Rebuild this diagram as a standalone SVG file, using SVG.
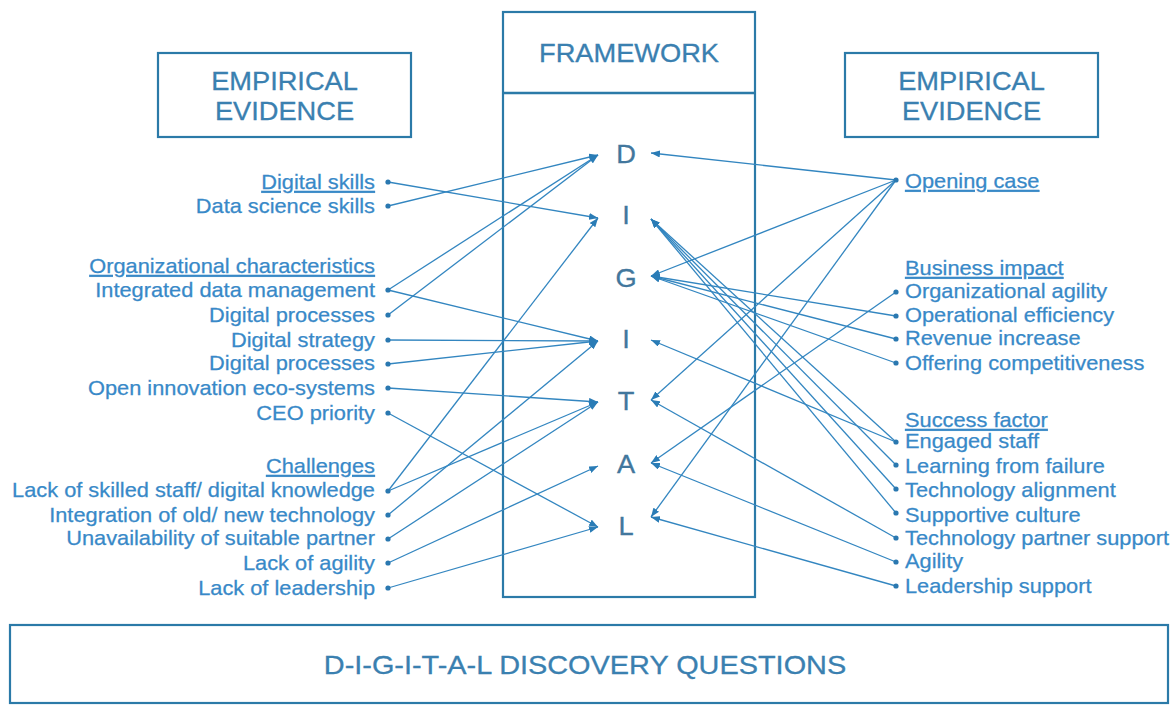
<svg xmlns="http://www.w3.org/2000/svg" width="1175" height="707" viewBox="0 0 1175 707">
  <style>
    text { font-family: "Liberation Sans", Arial, sans-serif; }
    .box { fill: #ffffff; stroke: #2b7aa8; stroke-width: 2.2; }
    .title { font-size: 25px; fill: #3a80b0; text-anchor: middle; stroke: #3a80b0; stroke-width: 0.3; }
    .letter { font-size: 25px; fill: #42779d; text-anchor: middle; stroke: #42779d; stroke-width: 0.3; }
    .lbl { font-size: 20px; fill: #3889c8; stroke: #3889c8; stroke-width: 0.25; }
    .lbl-l { text-anchor: end; }
    .head { text-decoration: underline; }
    .bottom { font-size: 26.5px; fill: #3a80b0; text-anchor: middle; stroke: #3a80b0; stroke-width: 0.3; }
    .con line { stroke: #3386c0; stroke-width: 1.3; marker-end: url(#arrow); }
    .dot { fill: #2a78b0; }
  </style>
  <defs>
    <marker id="arrow" markerUnits="userSpaceOnUse" markerWidth="9" markerHeight="7" refX="9" refY="3.5" orient="auto">
      <path d="M0,0 L9,3.5 L0,7 z" fill="#2a7cb6"/>
    </marker>
  </defs>

  <rect width="1175" height="707" fill="#ffffff"/>

  <!-- left evidence header -->
  <g id="left-header">
    <rect class="box" x="158" y="53" width="253" height="84"/>
    <text class="title" transform="translate(284.5,90) scale(1.09,1)">EMPIRICAL</text>
    <text class="title" transform="translate(284.5,120) scale(1.09,1)">EVIDENCE</text>
  </g>

  <!-- right evidence header -->
  <g id="right-header">
    <rect class="box" x="845" y="53" width="253" height="84"/>
    <text class="title" transform="translate(971.5,90) scale(1.09,1)">EMPIRICAL</text>
    <text class="title" transform="translate(971.5,120) scale(1.09,1)">EVIDENCE</text>
  </g>

  <!-- framework column -->
  <g id="framework">
    <rect class="box" x="503" y="12" width="252" height="585" stroke-width="2.6"/>
    <line x1="503" y1="93" x2="755" y2="93" stroke="#2b7aa8" stroke-width="2.4"/>
    <text class="title" transform="translate(629,62) scale(1.09,1)">FRAMEWORK</text>
  </g>

  <g id="letter-D"><text class="letter" transform="translate(626,163) scale(1.09,1)">D</text></g>
  <g id="letter-I1"><text class="letter" transform="translate(626,224) scale(1.09,1)">I</text></g>
  <g id="letter-G"><text class="letter" transform="translate(626,287) scale(1.09,1)">G</text></g>
  <g id="letter-I2"><text class="letter" transform="translate(626,348) scale(1.09,1)">I</text></g>
  <g id="letter-T"><text class="letter" transform="translate(626,410) scale(1.09,1)">T</text></g>
  <g id="letter-A"><text class="letter" transform="translate(626,473) scale(1.09,1)">A</text></g>
  <g id="letter-L"><text class="letter" transform="translate(626,535) scale(1.09,1)">L</text></g>

  <!-- connectors: evidence items to framework letters -->
  <g id="connectors" class="con">
    <!-- left side -->
    <line x1="388" y1="182" x2="598" y2="218"/>
    <line x1="388" y1="206" x2="598" y2="155"/>
    <line x1="388" y1="290" x2="598" y2="155"/>
    <line x1="388" y1="290" x2="598" y2="341"/>
    <line x1="388" y1="315" x2="598" y2="155"/>
    <line x1="388" y1="340" x2="598" y2="341"/>
    <line x1="388" y1="364" x2="598" y2="341"/>
    <line x1="388" y1="388" x2="598" y2="402"/>
    <line x1="388" y1="413" x2="598" y2="527"/>
    <line x1="388" y1="491" x2="598" y2="218"/>
    <line x1="388" y1="491" x2="598" y2="402"/>
    <line x1="388" y1="515" x2="598" y2="341"/>
    <line x1="388" y1="539" x2="598" y2="402"/>
    <line x1="388" y1="563" x2="598" y2="466"/>
    <line x1="388" y1="588" x2="598" y2="527"/>
    <!-- right side -->
    <line x1="896" y1="180" x2="651" y2="153"/>
    <line x1="896" y1="180" x2="651" y2="276"/>
    <line x1="896" y1="180" x2="651" y2="400"/>
    <line x1="896" y1="180" x2="651" y2="517"/>
    <line x1="896" y1="292" x2="651" y2="463"/>
    <line x1="896" y1="316" x2="651" y2="276"/>
    <line x1="896" y1="339" x2="651" y2="276"/>
    <line x1="896" y1="363" x2="651" y2="276"/>
    <line x1="896" y1="442" x2="651" y2="219"/>
    <line x1="896" y1="465" x2="651" y2="219"/>
    <line x1="896" y1="489" x2="651" y2="219"/>
    <line x1="896" y1="513" x2="651" y2="219"/>
    <line x1="896" y1="442" x2="651" y2="340"/>
    <line x1="896" y1="538" x2="651" y2="400"/>
    <line x1="896" y1="562" x2="651" y2="463"/>
    <line x1="896" y1="586" x2="651" y2="517"/>
  </g>

  <!-- left evidence items -->
  <g id="left-items">
    <text class="lbl lbl-l head" transform="translate(375,189) scale(1.09,1)">Digital skills</text>
    <text class="lbl lbl-l" transform="translate(375,213) scale(1.09,1)">Data science skills</text>
    <text class="lbl lbl-l head" transform="translate(375,273) scale(1.09,1)">Organizational characteristics</text>
    <text class="lbl lbl-l" transform="translate(375,297) scale(1.09,1)">Integrated data management</text>
    <text class="lbl lbl-l" transform="translate(375,322) scale(1.09,1)">Digital processes</text>
    <text class="lbl lbl-l" transform="translate(375,347) scale(1.09,1)">Digital strategy</text>
    <text class="lbl lbl-l" transform="translate(375,370) scale(1.09,1)">Digital processes</text>
    <text class="lbl lbl-l" transform="translate(375,395) scale(1.09,1)">Open innovation eco-systems</text>
    <text class="lbl lbl-l" transform="translate(375,420) scale(1.09,1)">CEO priority</text>
    <text class="lbl lbl-l head" transform="translate(375,473) scale(1.09,1)">Challenges</text>
    <text class="lbl lbl-l" transform="translate(375,497) scale(1.09,1)">Lack of skilled staff/ digital knowledge</text>
    <text class="lbl lbl-l" transform="translate(375,522) scale(1.09,1)">Integration of old/ new technology</text>
    <text class="lbl lbl-l" transform="translate(375,545) scale(1.09,1)">Unavailability of suitable partner</text>
    <text class="lbl lbl-l" transform="translate(375,570) scale(1.09,1)">Lack of agility</text>
    <text class="lbl lbl-l" transform="translate(375,595) scale(1.09,1)">Lack of leadership</text>
    <circle class="dot" cx="388" cy="182" r="2.6"/>
    <circle class="dot" cx="388" cy="206" r="2.6"/>
    <circle class="dot" cx="388" cy="290" r="2.6"/>
    <circle class="dot" cx="388" cy="315" r="2.6"/>
    <circle class="dot" cx="388" cy="340" r="2.6"/>
    <circle class="dot" cx="388" cy="364" r="2.6"/>
    <circle class="dot" cx="388" cy="388" r="2.6"/>
    <circle class="dot" cx="388" cy="413" r="2.6"/>
    <circle class="dot" cx="388" cy="491" r="2.6"/>
    <circle class="dot" cx="388" cy="515" r="2.6"/>
    <circle class="dot" cx="388" cy="539" r="2.6"/>
    <circle class="dot" cx="388" cy="563" r="2.6"/>
    <circle class="dot" cx="388" cy="588" r="2.6"/>
  </g>

  <!-- right evidence items -->
  <g id="right-items">
    <text class="lbl head" transform="translate(905,188) scale(1.09,1)">Opening case</text>
    <text class="lbl head" transform="translate(905,275) scale(1.09,1)">Business impact</text>
    <text class="lbl" transform="translate(905,298) scale(1.09,1)">Organizational agility</text>
    <text class="lbl" transform="translate(905,322) scale(1.09,1)">Operational efficiency</text>
    <text class="lbl" transform="translate(905,345) scale(1.09,1)">Revenue increase</text>
    <text class="lbl" transform="translate(905,370) scale(1.09,1)">Offering competitiveness</text>
    <text class="lbl head" transform="translate(905,427) scale(1.09,1)">Success factor</text>
    <text class="lbl" transform="translate(905,448) scale(1.09,1)">Engaged staff</text>
    <text class="lbl" transform="translate(905,473) scale(1.09,1)">Learning from failure</text>
    <text class="lbl" transform="translate(905,497) scale(1.09,1)">Technology alignment</text>
    <text class="lbl" transform="translate(905,522) scale(1.09,1)">Supportive culture</text>
    <text class="lbl" transform="translate(905,545) scale(1.09,1)">Technology partner support</text>
    <text class="lbl" transform="translate(905,568) scale(1.09,1)">Agility</text>
    <text class="lbl" transform="translate(905,593) scale(1.09,1)">Leadership support</text>
    <circle class="dot" cx="896" cy="180" r="2.6"/>
    <circle class="dot" cx="896" cy="292" r="2.6"/>
    <circle class="dot" cx="896" cy="316" r="2.6"/>
    <circle class="dot" cx="896" cy="339" r="2.6"/>
    <circle class="dot" cx="896" cy="363" r="2.6"/>
    <circle class="dot" cx="896" cy="442" r="2.6"/>
    <circle class="dot" cx="896" cy="465" r="2.6"/>
    <circle class="dot" cx="896" cy="489" r="2.6"/>
    <circle class="dot" cx="896" cy="513" r="2.6"/>
    <circle class="dot" cx="896" cy="538" r="2.6"/>
    <circle class="dot" cx="896" cy="562" r="2.6"/>
    <circle class="dot" cx="896" cy="586" r="2.6"/>
  </g>

  <!-- discovery questions banner -->
  <g id="discovery">
    <rect class="box" x="10" y="625" width="1158" height="78" stroke="#3a93c8"/>
    <text class="bottom" transform="translate(585,674) scale(1.09,1)">D-I-G-I-T-A-L DISCOVERY QUESTIONS</text>
  </g>
</svg>
